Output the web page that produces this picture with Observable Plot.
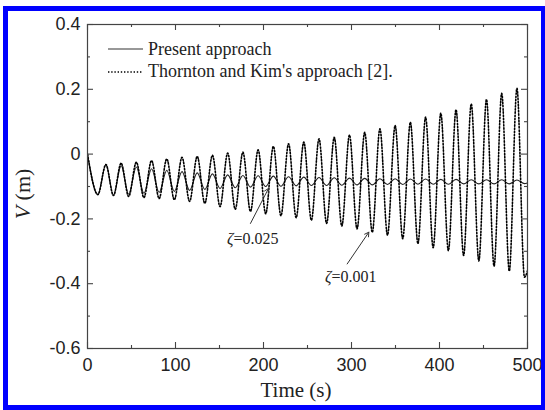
<!DOCTYPE html>
<html><head><meta charset="utf-8">
<script src="https://cdn.jsdelivr.net/npm/d3@7"></script>
<script src="https://cdn.jsdelivr.net/npm/@observablehq/plot@0.6"></script>
<style>
html,body{margin:0;padding:0;background:#fff;}
#wrap{position:relative;width:545px;height:410px;overflow:hidden;background:#fff;}
#border{position:absolute;left:3px;top:6px;width:533px;height:394px;border:5px solid #0000ff;pointer-events:none;}
#chart{position:absolute;left:0;top:0;}
.lbl{position:absolute;font-family:"Liberation Serif","Times New Roman",serif;color:#222;white-space:nowrap;}
.row{position:absolute;left:108px;height:22px;line-height:22px;font-size:18px;}
.row svg{position:absolute;left:0;top:0;}
.row span{position:absolute;left:40px;top:0;}
</style></head><body>
<div id="wrap"><div id="chart"></div>
<div class="lbl" style="left:23px;top:194px;font-size:22px;transform:translate(-50%,-50%) rotate(-90deg);"><i>V</i> (m)</div>
<div class="lbl" style="left:296px;top:380px;font-size:21px;line-height:21px;transform:translateX(-50%);">Time (s)</div>
<div id="legend"></div>
<div id="border"></div></div>
<script>
// Series names
const seriesNames = ["Present approach", "Thornton and Kim's approach [2]."];
// Times of the troughs and peaks (s)
const troughTimes = [11.8, 29.5, 46.8, 64.1, 81.4, 98.7, 116.0, 133.3, 150.6, 167.9, 185.2, 202.5, 219.8, 237.1, 254.4, 271.7, 289.0, 306.3, 323.6, 340.9, 358.2, 375.5, 392.8, 410.1, 427.4, 444.7, 462.0, 479.3, 496.6];
const peakTimes = [20.9, 38.2, 55.5, 72.8, 90.1, 107.4, 124.7, 142.0, 159.3, 176.6, 193.9, 211.2, 228.5, 245.8, 263.1, 280.4, 297.7, 315.0, 332.3, 349.6, 366.9, 384.2, 401.5, 418.8, 436.1, 453.4, 470.7, 488.0];
// Present approach (zeta = 0.025)
const presentStart = 0, presentEnd = -0.089;
const presentTroughs = [-0.125, -0.127, -0.124, -0.121, -0.118, -0.115, -0.112, -0.109, -0.106, -0.104, -0.102, -0.100, -0.099, -0.098, -0.097, -0.097, -0.096, -0.095, -0.095, -0.094, -0.094, -0.093, -0.093, -0.093, -0.092, -0.092, -0.092, -0.092, -0.091];
const presentPeaks = [-0.033, -0.036, -0.040, -0.045, -0.050, -0.054, -0.058, -0.061, -0.064, -0.066, -0.067, -0.068, -0.070, -0.071, -0.072, -0.073, -0.074, -0.075, -0.076, -0.076, -0.077, -0.077, -0.078, -0.078, -0.079, -0.079, -0.079, -0.080];
// Thornton and Kim (zeta = 0.001)
const thorntonStart = 0, thorntonEnd = -0.36;
const thorntonTroughs = [-0.125, -0.128, -0.131, -0.134, -0.137, -0.141, -0.146, -0.152, -0.162, -0.170, -0.177, -0.184, -0.190, -0.196, -0.204, -0.214, -0.222, -0.231, -0.241, -0.250, -0.261, -0.276, -0.289, -0.298, -0.313, -0.330, -0.346, -0.361, -0.380];
const thorntonPeaks = [-0.032, -0.028, -0.025, -0.020, -0.015, -0.010, -0.007, -0.004, 0.003, 0.006, 0.013, 0.024, 0.032, 0.037, 0.047, 0.052, 0.059, 0.067, 0.078, 0.088, 0.098, 0.114, 0.126, 0.137, 0.155, 0.169, 0.188, 0.203];
// Ticks
const xMajor = [0, 100, 200, 300, 400, 500];
const xMinor = [50, 150, 250, 350, 450];
const yMajor = [-0.6, -0.4, -0.2, 0, 0.2, 0.4];
const yMinor = [-0.5, -0.3, -0.1, 0.1, 0.3];
// Annotations
const annotations = [
  {label: "0.025", tx: 165.9, ty: -0.2605, ax1: 185.2, ay1: -0.214, ax2: 205.7, ay2: -0.106},
  {label: "0.001", tx: 277.3, ty: -0.378, ax1: 295.1, ay1: -0.339, ax2: 319.7, ay2: -0.241}
];

function build(start, troughs, peaks, end) {
  const pts = [{t: 0, v: start}];
  for (let i = 0; i < troughs.length; i++) {
    pts.push({t: troughTimes[i], v: troughs[i]});
    if (i < peaks.length) pts.push({t: peakTimes[i], v: peaks[i]});
  }
  pts.push({t: 500, v: end});
  return pts;
}
const present = build(presentStart, presentTroughs, presentPeaks, presentEnd);
const thornton = build(thorntonStart, thorntonTroughs, thorntonPeaks, thorntonEnd);

const sans = "Liberation Sans, Arial, sans-serif";
const serif = "Liberation Serif, Times New Roman, serif";
const fmtY = d => Math.abs(d) < 1e-9 ? "0" : (Math.round(d * 10) / 10).toFixed(1);
const fmtX = d => String(Math.round(d));
const axisColor = "#444";

const W = 545, H = 410, mL = 87, mR = 18, mT = 24, mB = 62;
const plotW = W - mL - mR, plotH = H - mT - mB;

// inward ticks on all four sides of the frame
function inTicksX(vals, size) {
  return [
    Plot.tickX(vals, {x: d => d, insetTop: plotH - size, stroke: axisColor, strokeWidth: 1.1}),
    Plot.tickX(vals, {x: d => d, insetBottom: plotH - size, stroke: axisColor, strokeWidth: 1.1})
  ];
}
function inTicksY(vals, size) {
  return [
    Plot.tickY(vals, {y: d => d, insetRight: plotW - size, stroke: axisColor, strokeWidth: 1.1}),
    Plot.tickY(vals, {y: d => d, insetLeft: plotW - size, stroke: axisColor, strokeWidth: 1.1})
  ];
}

const chart = Plot.plot({
  width: W, height: H,
  marginLeft: mL, marginRight: mR, marginTop: mT, marginBottom: mB,
  x: {domain: [0, 500], axis: null},
  y: {domain: [-0.6, 0.4], axis: null},
  style: {background: "transparent", color: "#222"},
  marks: [
    Plot.line(present, {x: "t", y: "v", curve: "monotone-x", stroke: "#222", strokeWidth: 1.1, clip: true}),
    Plot.line(thornton, {x: "t", y: "v", curve: "monotone-x", stroke: "#000", strokeWidth: 1.6, strokeDasharray: "1.4 1.8", clip: true}),
    Plot.frame({stroke: axisColor, strokeWidth: 1.2}),
    ...inTicksX(xMajor, 6), ...inTicksX(xMinor, 3),
    ...inTicksY(yMajor, 6), ...inTicksY(yMinor, 3),
    Plot.axisX(xMajor, {anchor: "bottom", tickSize: 0, tickPadding: 10, tickFormat: fmtX, fontSize: 18, fontFamily: sans, fill: "#222", label: null}),
    Plot.axisY(yMajor, {anchor: "left", tickSize: 0, tickPadding: 7, tickFormat: fmtY, fontSize: 18, fontFamily: sans, fill: "#222", label: null}),
    Plot.arrow(annotations, {x1: "ax1", y1: "ay1", x2: "ax2", y2: "ay2", stroke: "#333", strokeWidth: 1, headLength: 7}),
    Plot.text(annotations, {x: "tx", y: "ty", text: () => "ζ", textAnchor: "end", fontStyle: "italic", fontFamily: serif, fontSize: 16, fill: "#222"}),
    Plot.text(annotations, {x: "tx", y: "ty", text: d => "=" + d.label, textAnchor: "start", fontFamily: serif, fontSize: 16, fill: "#222"})
  ]
});
document.getElementById("chart").appendChild(chart);

// Legend
const legend = document.getElementById("legend");
const rowTops = [38, 60];
const lineYs = [11, 12];
seriesNames.forEach((name, i) => {
  const row = document.createElement("div");
  row.className = "row lbl";
  row.style.top = rowTops[i] + "px";
  const dash = i === 0 ? "" : 'stroke-dasharray="1.4 1.8"';
  const sw = i === 0 ? 1.1 : 1.6;
  const col = i === 0 ? "#333" : "#000";
  row.innerHTML = `<svg width="36" height="22"><line x1="0" x2="35" y1="${lineYs[i]}" y2="${lineYs[i]}" stroke="${col}" stroke-width="${sw}" ${dash}/></svg><span>${name}</span>`;
  legend.appendChild(row);
});
</script>
</body></html>
